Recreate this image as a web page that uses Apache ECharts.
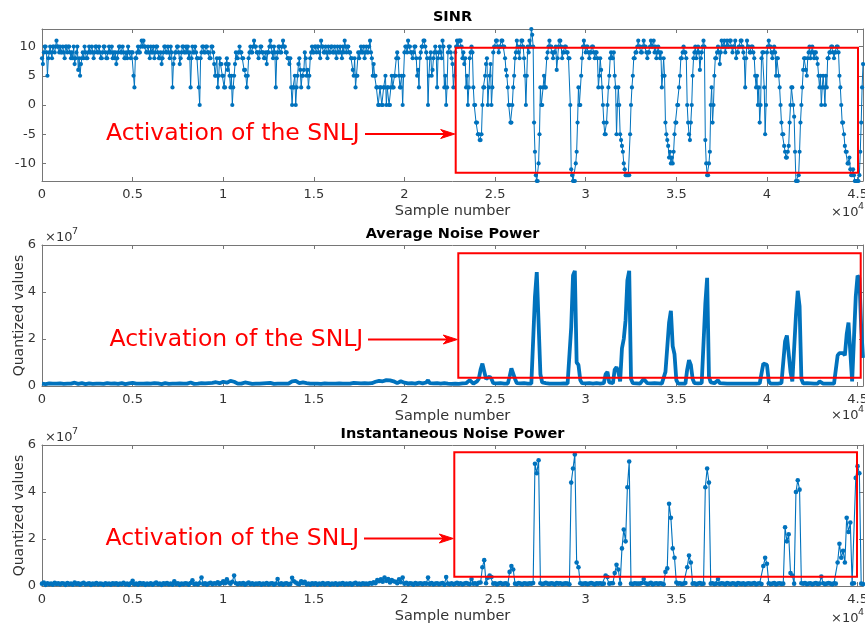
<!DOCTYPE html>
<html>
<head>
<meta charset="utf-8">
<script src="https://cdn.jsdelivr.net/npm/echarts@6/dist/echarts.min.js"></script>
<style>
  html, body { margin: 0; padding: 0; background: #ffffff; }
  #chart { width: 865px; height: 624px; }
</style>
</head>
<body>
<div id="chart"></div>
<script>
// SINR is logged every 50 samples, the noise powers every 100 samples.
const SINR_STEP = 50;
const POWER_STEP = 100;
const X_MAX = 45300;

// SINR (dB), 20 readings per 10^3 samples
const sinrValues = [
  8,7,9,10,10,9,5,8,9,10,9,8,10,10,9,10,11,10,10,9,
  10,9,9,10,9,8,10,10,9,10,10,9,8,9,8,10,7,8,9,10,
  6,8,5,7,8,9,8,10,9,8,8,9,10,9,9,10,9,8,9,10,
  10,9,9,10,9,8,8,9,10,10,9,8,8,9,10,9,9,10,8,9,
  8,9,7,8,9,10,10,9,9,10,9,8,8,9,8,10,9,9,8,9,
  9,5,3,8,8,9,10,9,9,10,11,10,11,10,10,9,9,10,9,8,
  10,9,9,10,8,9,10,10,9,8,8,9,7,8,9,10,10,9,9,10,
  9,8,10,9,3,7,8,9,9,10,10,9,7,8,9,10,10,9,9,10,
  9,10,8,9,3,8,10,9,9,10,9,8,8,3,0,8,9,10,10,9,
  9,10,10,9,9,8,8,10,10,9,7,5,5,8,3,5,8,7,7,5,
  5,3,3,7,8,6,7,5,3,5,0,3,5,7,9,8,8,9,10,9,
  9,8,8,6,6,5,3,5,8,9,10,9,9,10,11,10,10,9,9,8,
  9,10,10,9,9,8,8,9,7,9,9,10,11,10,9,8,10,9,3,8,
  9,10,10,9,9,10,11,10,10,9,9,8,8,7,8,3,0,3,3,5,
  0,3,5,7,8,6,3,5,5,6,9,8,5,6,3,5,8,9,10,9,
  9,10,10,9,10,10,9,8,11,10,10,9,9,10,9,8,10,9,9,10,
  10,9,9,10,9,8,10,9,9,10,9,8,10,9,11,10,9,10,10,9,
  9,8,8,6,5,8,3,5,5,9,8,9,10,9,9,10,8,9,10,9,
  9,10,11,9,8,5,7,5,5,3,3,0,0,3,3,0,0,3,3,5,
  0,3,3,0,0,3,5,3,3,5,5,8,9,8,5,3,3,5,0,5,
  9,10,10,9,11,10,10,9,9,8,9,10,10,8,5,6,3,8,9,10,
  10,11,11,10,9,8,0,5,8,9,5,6,8,9,10,9,3,8,9,10,
  9,8,11,10,3,5,0,3,9,10,10,9,8,7,3,5,9,10,11,10,
  11,11,11,10,8,9,7,8,3,5,0,3,8,9,10,9,3,0,0,-3,
  -3,-5,-5,-6,-6,-5,0,3,3,5,7,8,0,3,5,7,0,3,9,10,
  10,11,11,10,9,10,10,11,11,10,10,8,6,5,3,0,0,-3,-3,0,
  3,5,8,9,11,10,9,8,10,11,11,10,8,5,0,5,10,9,11,10,
  13,12,10,-3,-8,-12,-13,-13,-10,-5,3,0,0,3,5,3,3,8,9,10,
  11,10,10,9,8,9,9,10,6,8,10,11,11,10,8,9,9,10,10,9,
  9,8,8,0,-11,-12,-13,-13,-13,-10,-8,-3,3,0,0,5,8,10,11,10,
  9,10,10,9,8,9,9,10,10,9,8,9,9,8,3,5,8,6,3,0,
  -3,-5,-5,-3,0,3,5,8,9,8,8,9,5,3,-5,0,3,0,-5,-6,
  -7,-8,-10,-11,-12,-12,-12,-12,-12,-5,0,3,5,8,8,9,9,10,11,10,
  10,9,9,10,11,10,10,9,8,9,9,10,11,10,10,11,9,10,8,9,
  10,9,8,9,3,5,8,5,-3,-5,-6,-7,-9,-8,-10,-9,-10,-8,-5,-3,
  -3,0,0,3,5,8,8,9,10,9,9,8,0,-3,-5,-6,-3,0,5,8,
  9,10,8,9,10,9,6,8,9,10,11,10,-6,-10,-12,-12,-10,-8,0,3,
  -3,0,5,8,8,9,10,9,7,9,11,10,10,11,9,10,11,10,10,11,
  11,10,9,10,10,11,8,9,9,10,10,11,11,10,9,8,3,8,11,10,
  10,9,9,10,10,9,8,5,3,5,0,3,-3,0,8,9,9,3,-5,0,
  9,10,11,10,10,9,8,9,10,9,5,8,8,5,3,0,-3,-5,-5,-7,
  -8,-9,-9,-8,-7,-3,0,3,3,0,-2,-8,-13,-13,-13,-12,-8,-3,0,3,
  6,8,8,6,5,8,9,10,8,9,10,9,8,9,9,8,7,5,3,5,
  0,3,5,3,0,5,3,8,8,9,9,10,10,9,8,9,9,10,10,9,
  5,3,0,-3,-3,-5,-7,-8,-8,-10,-10,-9,-11,-12,-12,-11,-12,-13,-13,-13,
  -13,-13,-12,-8,-3,3,7
];

// Average noise power, in units of 10^7, 10 readings per 10^3 samples
const avgNoisePower = [
  .1,.12,.08,.1,.11,.09,.1,.13,.1,.09,
  .11,.1,.09,.12,.1,.08,.1,.11,.14,.1,
  .09,.1,.12,.1,.08,.1,.11,.1,.09,.12,
  .1,.08,.1,.11,.09,.1,.12,.1,.1,.09,
  .11,.1,.09,.1,.12,.1,.08,.1,.11,.1,
  .13,.16,.1,.09,.1,.12,.1,.09,.11,.1,
  .1,.09,.12,.1,.11,.1,.08,.1,.12,.1,
  .09,.14,.1,.12,.1,.09,.11,.1,.1,.12,
  .1,.11,.15,.1,.09,.12,.1,.16,.12,.1,
  .11,.1,.12,.1,.13,.14,.16,.18,.12,.15,
  .18,.2,.14,.16,.22,.24,.18,.12,.1,.11,
  .1,.12,.15,.18,.12,.1,.09,.11,.1,.12,
  .1,.09,.11,.1,.12,.1,.13,.1,.09,.15,
  .1,.12,.1,.11,.1,.09,.1,.12,.2,.18,
  .22,.16,.12,.18,.15,.1,.12,.14,.1,.09,
  .1,.11,.1,.12,.09,.1,.11,.1,.1,.09,
  .1,.12,.1,.09,.11,.1,.1,.12,.1,.11,
  .1,.09,.13,.15,.12,.1,.11,.1,.12,.1,
  .11,.1,.12,.14,.18,.2,.22,.24,.2,.22,
  .25,.2,.24,.18,.2,.16,.12,.15,.2,.26,
  .14,.1,.11,.1,.12,.1,.1,.12,.15,.1,
  .11,.12,.15,.25,.12,.1,.11,.1,.12,.1,
  .1,.11,.12,.2,.1,.1,.09,.12,.1,.1,
  .09,.1,.11,.1,.12,.15,.25,.2,.1,.12,
  .2,.3,.7,.95,.9,.3,.35,.4,.3,.12,
  .1,.11,.1,.12,.1,.1,.09,.1,.4,.75,
  .7,.3,.12,.1,.11,.1,.12,.1,.1,.11,
  .1,.12,3.8,4.85,4.9,.5,.15,.1,.12,.1,
  .1,.11,.1,.12,.1,.09,.1,.12,.11,.1,
  .1,.12,2.5,4.7,4.9,1.0,.9,.25,.12,.1,
  .11,.1,.12,.1,.1,.11,.12,.1,.1,.11,
  .12,.5,.6,.15,.1,.12,.7,.8,.6,.2,
  1.6,2.0,2.8,4.5,4.9,.3,.12,.1,.11,.1,
  .1,.15,.3,.25,.12,.1,.11,.1,.12,.1,
  .11,.12,.1,.1,.6,.65,2.7,3.2,1.7,1.35,
  .25,.1,.12,.1,.11,.1,.7,1.1,.9,.3,
  .12,.1,.11,.1,.12,.1,3.5,4.6,.4,.15,
  .1,.12,.1,.25,.12,.1,.11,.1,.1,.12,
  .1,.11,.1,.12,.1,.09,.1,.11,.1,.12,
  .1,.11,.1,.12,.1,.1,.11,.12,.95,1.02,
  .9,.2,.1,.11,.1,.12,.1,.1,.12,.1,
  1.9,2.15,2.1,.6,.2,.15,3.0,4.05,3.4,.3,
  .11,.1,.12,.1,.11,.1,.1,.12,.1,.2,
  .12,.1,.11,.1,.12,.1,.11,.1,.12,1.3,
  1.4,1.35,1.4,1.3,2.2,2.7,2.75,.2,.15,3.8,
  4.7,4.6,2.5,1.2
];

// Instantaneous noise power, in units of 10^7, 10 readings per 10^3 samples
const instNoisePower = [
  .1,.15,.05,.12,.08,.1,.06,.14,.09,.11,
  .07,.12,.1,.05,.13,.08,.1,.06,.15,.09,
  .11,.06,.1,.14,.07,.09,.12,.05,.1,.08,
  .13,.07,.1,.09,.05,.12,.08,.1,.06,.11,
  .09,.12,.06,.1,.08,.14,.07,.1,.05,.12,
  .22,.08,.1,.06,.13,.09,.11,.05,.1,.07,
  .12,.06,.1,.15,.08,.1,.05,.11,.09,.13,
  .07,.1,.06,.2,.09,.12,.05,.1,.08,.11,
  .1,.06,.13,.24,.08,.1,.07,.12,.36,.09,
  .11,.06,.1,.14,.08,.12,.1,.16,.09,.13,
  .2,.12,.28,.15,.1,.18,.45,.12,.08,.11,
  .09,.13,.06,.1,.15,.08,.12,.07,.1,.09,
  .12,.06,.1,.08,.13,.07,.1,.12,.06,.1,
  .3,.08,.11,.06,.1,.12,.07,.09,.35,.2,
  .15,.1,.08,.2,.12,.18,.07,.1,.06,.11,
  .09,.12,.06,.1,.08,.13,.07,.1,.11,.06,
  .1,.08,.12,.06,.1,.09,.13,.07,.1,.08,
  .12,.06,.1,.14,.08,.1,.07,.12,.09,.1,
  .08,.13,.1,.16,.12,.25,.2,.28,.18,.36,
  .22,.3,.15,.25,.2,.18,.12,.28,.16,.36,
  .1,.14,.08,.12,.1,.06,.13,.09,.1,.12,
  .08,.12,.1,.36,.09,.13,.07,.1,.12,.08,
  .1,.13,.06,.38,.1,.08,.12,.07,.1,.14,
  .09,.12,.07,.1,.13,.1,.08,.3,.1,.12,
  .08,.14,.15,.8,1.1,.12,.35,.45,.38,.1,
  .12,.07,.1,.13,.08,.1,.12,.06,.6,.85,
  .7,.1,.08,.13,.1,.07,.12,.1,.09,.11,
  .1,.13,5.2,4.8,5.35,.12,.08,.1,.14,.1,
  .09,.12,.1,.07,.13,.1,.12,.08,.1,.11,
  .1,.07,4.4,5.0,5.6,1.0,.8,.12,.09,.1,
  .12,.08,.1,.13,.1,.07,.11,.1,.12,.09,
  .1,.45,.38,.1,.12,.12,.55,.9,.7,.1,
  1.6,2.4,1.9,4.2,5.3,.1,.08,.12,.1,.1,
  .1,.13,.3,.12,.08,.1,.14,.07,.1,.12,
  .09,.12,.1,.07,.6,.75,3.5,2.9,1.6,1.2,
  .15,.1,.12,.08,.1,.13,.8,1.3,1.0,.1,
  .12,.07,.1,.13,.09,.1,4.2,5.0,4.4,.1,
  .12,.08,.1,.3,.09,.12,.1,.07,.13,.1,
  .08,.12,.1,.06,.13,.1,.09,.12,.07,.1,
  .12,.09,.1,.13,.07,.1,.12,.08,.85,1.2,
  .95,.12,.08,.1,.13,.07,.1,.12,.09,.1,
  2.5,1.9,2.2,.55,.45,.1,4.0,4.5,4.1,.12,
  .1,.13,.08,.1,.12,.07,.1,.13,.09,.1,
  .4,.12,.08,.1,.13,.1,.07,.12,.1,1.0,
  1.8,1.2,1.5,1.0,2.9,2.3,2.7,.1,.12,4.6,
  5.1,4.8,.1,.08
];

// Tick values
const xTickValues = [0, 5000, 10000, 15000, 20000, 25000, 30000, 35000, 40000, 45000];
const sinrTickValues = [-10, -5, 0, 5, 10];
const powerTickValues = [0, 2, 4, 6];

const panelTitles = ['SINR', 'Average Noise Power', 'Instantaneous Noise Power'];
const annotationText = 'Activation of the SNLJ';

// ---------------------------------------------------------------
const FONT = '"DejaVu Sans", sans-serif';
const BLUE = '#0072bd';
const AXIS_COLOR = '#767676';
const LABEL_COLOR = '#333333';
const RED = '#ff0000';

const GRID_LEFT = 42;
const GRID_RIGHT = 2;
const panels = [
  { top: 29, height: 152, yMin: -13, yMax: 13, ticks: sinrTickValues, yName: '' },
  { top: 245, height: 141, yMin: 0, yMax: 6, ticks: powerTickValues, yName: 'Quantized values' },
  { top: 445, height: 141, yMin: 0, yMax: 6, ticks: powerTickValues, yName: 'Quantized values' }
];

function toPoints(values, step) {
  return values.map((v, i) => [i * step, v]);
}

const grids = [], xAxes = [], yAxes = [];
panels.forEach((p, idx) => {
  grids.push({
    left: GRID_LEFT, right: GRID_RIGHT, top: p.top, height: p.height,
    containLabel: false, outerBoundsMode: 'none'
  });
  const lineStyle = { color: AXIS_COLOR, width: 1 };
  const tick = { show: true, inside: true, length: 4, lineStyle, customValues: xTickValues };
  xAxes.push({
    type: 'value', gridIndex: idx, position: 'bottom', min: 0, max: X_MAX,
    axisLine: { show: true, onZero: false, lineStyle },
    axisTick: tick,
    splitLine: { show: false },
    axisLabel: {
      customValues: xTickValues, margin: 7, color: LABEL_COLOR, fontSize: 13, fontFamily: FONT,
      formatter: v => String(v / 10000)
    },
    name: 'Sample number', nameLocation: 'middle', nameGap: 23, nameMoveOverlap: false,
    nameTextStyle: { color: LABEL_COLOR, fontSize: 14.5, fontFamily: FONT }
  });
  xAxes.push({
    type: 'value', gridIndex: idx, position: 'top', min: 0, max: X_MAX,
    axisLine: { show: true, onZero: false, lineStyle },
    axisTick: tick,
    splitLine: { show: false },
    axisLabel: { show: false }
  });
  const yTick = { show: true, inside: true, length: 4, lineStyle, customValues: p.ticks };
  yAxes.push({
    type: 'value', gridIndex: idx, position: 'left', min: p.yMin, max: p.yMax,
    axisLine: { show: true, onZero: false, lineStyle },
    axisTick: yTick,
    splitLine: { show: false },
    axisLabel: { customValues: p.ticks, margin: 6, color: LABEL_COLOR, fontSize: 13, fontFamily: FONT },
    name: p.yName, nameLocation: 'middle', nameGap: 16, nameMoveOverlap: false,
    nameTextStyle: { color: LABEL_COLOR, fontSize: 14, fontFamily: FONT }
  });
  yAxes.push({
    type: 'value', gridIndex: idx, position: 'right', min: p.yMin, max: p.yMax,
    axisLine: { show: true, onZero: false, lineStyle },
    axisTick: yTick,
    splitLine: { show: false },
    axisLabel: { show: false }
  });
});

const series = [
  {
    name: 'SINR', type: 'line', xAxisIndex: 0, yAxisIndex: 0,
    data: toPoints(sinrValues, SINR_STEP), clip: false, silent: true,
    symbol: 'circle', symbolSize: 4.2, showSymbol: true,
    lineStyle: { color: BLUE, width: 1 }, itemStyle: { color: BLUE, borderWidth: 0 }
  },
  {
    name: 'Average Noise Power', type: 'line', xAxisIndex: 2, yAxisIndex: 2,
    data: toPoints(avgNoisePower, POWER_STEP), clip: false, silent: true,
    symbol: 'none', lineStyle: { color: BLUE, width: 3.8 }
  },
  {
    name: 'Instantaneous Noise Power', type: 'line', xAxisIndex: 4, yAxisIndex: 4,
    data: toPoints(instNoisePower, POWER_STEP), clip: false, silent: true,
    symbol: 'circle', symbolSize: 4.6, showSymbol: true,
    lineStyle: { color: BLUE, width: 1.1 }, itemStyle: { color: BLUE, borderWidth: 0 }
  }
];

// Titles, exponent labels and the red annotations
const graphics = [];
const plotCenter = GRID_LEFT + (865 - GRID_LEFT - GRID_RIGHT) / 2;
const titleY = [17, 234, 434];
panelTitles.forEach((t, i) => {
  graphics.push({
    type: 'text', x: plotCenter, y: titleY[i], z: 100,
    style: { text: t, fill: '#000000', font: 'bold 14.5px ' + FONT, align: 'center', verticalAlign: 'middle' }
  });
});

function exponent(x, y, power) {
  graphics.push({
    type: 'text', x: x, y: y, z: 100,
    style: { text: '\u00d710', fill: LABEL_COLOR, font: '13px ' + FONT, align: 'left', verticalAlign: 'middle' }
  });
  graphics.push({
    type: 'text', x: x + 27, y: y - 6, z: 100,
    style: { text: power, fill: LABEL_COLOR, font: '9.5px ' + FONT, align: 'left', verticalAlign: 'middle' }
  });
}
exponent(831, 213, '4');
exponent(831, 416, '4');
exponent(831, 619, '4');
exponent(45, 238, '7');
exponent(45, 438, '7');

const annotations = [
  { box: [455.7, 47.7, 858, 172.7], textX: 106, textY: 134, lineFrom: 365 },
  { box: [458.3, 253.3, 860.7, 377.7], textX: 109.5, textY: 339.5, lineFrom: 368 },
  { box: [454.3, 452.3, 857, 576.7], textX: 105.5, textY: 538.5, lineFrom: 364 }
];
annotations.forEach(a => {
  const [x0, y0, x1, y1] = a.box;
  graphics.push({
    type: 'rect', z: 110,
    shape: { x: x0, y: y0, width: x1 - x0, height: y1 - y0 },
    style: { fill: 'none', stroke: RED, lineWidth: 2 }
  });
  graphics.push({
    type: 'text', x: a.textX, y: a.textY, z: 110,
    style: { text: annotationText, fill: RED, font: '23.5px ' + FONT, align: 'left', verticalAlign: 'middle' }
  });
  const tip = x0 - 1;
  graphics.push({
    type: 'polyline', z: 110,
    shape: { points: [[a.lineFrom, a.textY], [tip - 10, a.textY]] },
    style: { stroke: RED, lineWidth: 2 }
  });
  graphics.push({
    type: 'polygon', z: 110,
    shape: { points: [[tip, a.textY], [tip - 14, a.textY - 4.5], [tip - 10, a.textY], [tip - 14, a.textY + 4.5]] },
    style: { fill: RED, stroke: RED, lineWidth: 1 }
  });
});

const chart = echarts.init(document.getElementById('chart'), null, { renderer: 'canvas' });
chart.setOption({
  animation: false,
  backgroundColor: '#ffffff',
  grid: grids,
  xAxis: xAxes,
  yAxis: yAxes,
  series: series,
  graphic: graphics
});
</script>
</body>
</html>
